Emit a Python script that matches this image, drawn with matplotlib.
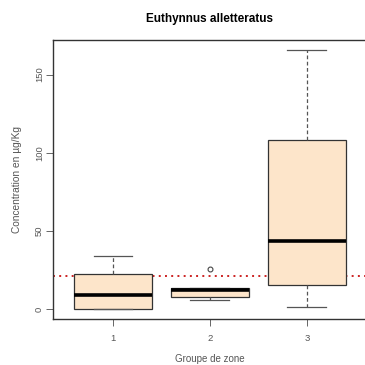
import matplotlib
matplotlib.use("Agg")
import matplotlib.pyplot as plt

# Boxplot summary per zone group
groups = ["1", "2", "3"]
whislo = [0.0, 5.7, 1.7]
q1 = [0.0, 8.1, 15.5]
med = [9.1, 12.2, 43.8]
q3 = [22.3, 13.6, 108.0]
whishi = [34.0, 13.6, 165.5]
fliers = [[], [25.5], []]
seuil = 21.0

plt.rcParams["font.family"] = ["Liberation Sans", "DejaVu Sans"]

fig = plt.figure(figsize=(3.65, 3.65), dpi=100)
ax = fig.add_axes([0.145, 0.126, 0.86, 0.764])

stats = []
for i in range(len(groups)):
    stats.append(dict(med=med[i], q1=q1[i], q3=q3[i], whislo=whislo[i],
                      whishi=whishi[i], fliers=fliers[i], label=groups[i]))

ax.bxp(stats, positions=[1, 2, 3], widths=0.8, patch_artist=True,
       boxprops=dict(facecolor="#fde5ca", edgecolor="#333333", linewidth=0.9),
       medianprops=dict(color="black", linewidth=2.6),
       whiskerprops=dict(color="#555555", linewidth=0.9, linestyle=(0, (3, 2))),
       capprops=dict(color="#555555", linewidth=0.9),
       capwidths=0.4,
       flierprops=dict(marker="o", markersize=3.5, markerfacecolor="none",
                       markeredgecolor="#444444", markeredgewidth=0.8))

ax.axhline(seuil, color="#cc2222", linewidth=1.4, linestyle=(0, (1, 2.2)), zorder=0.5)

ax.set_xlim(0.38, 3.62)
ax.set_ylim(-6.2, 172)
ax.set_yticks([0, 50, 100, 150])
ax.set_xticks([1, 2, 3])
ax.set_xticklabels(groups)
for lab in ax.get_yticklabels():
    lab.set_rotation(90)
    lab.set_va("center")

ax.tick_params(direction="out", length=5, width=0.7, colors="#666666",
               labelsize=6.8, labelcolor="#555555", pad=6)
ax.tick_params(axis="y", pad=1.5)
for s in ax.spines.values():
    s.set_color("#333333")
    s.set_linewidth(1.0)

ax.set_title("Euthynnus alletteratus", fontsize=8.5, fontweight="bold", pad=13)
ax.set_xlabel("Groupe de zone", fontsize=7, color="#555555", labelpad=8)
ax.set_ylabel("Concentration en µg/Kg", fontsize=7.3, color="#555555", labelpad=9)

fig.savefig("out.png", dpi=100)
